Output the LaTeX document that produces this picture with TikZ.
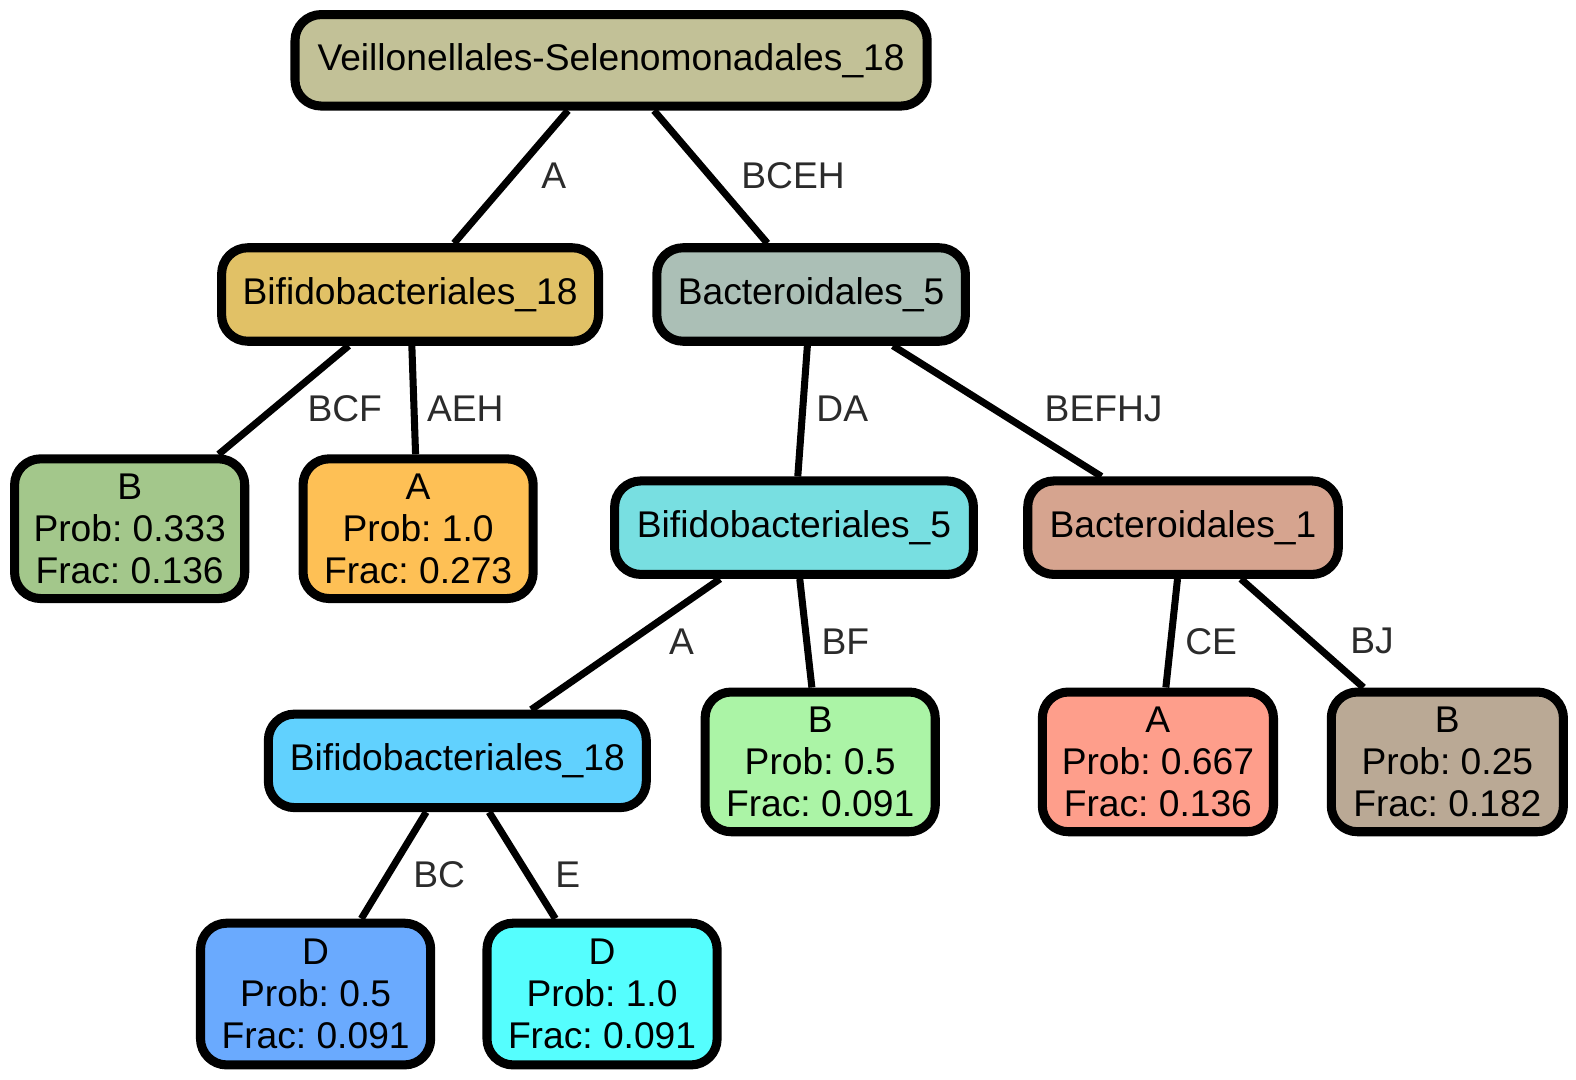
\documentclass[tikz,border=0pt]{standalone}
\usepackage{fontspec}
\setmainfont{Liberation Sans}
\frenchspacing
\definecolor{cRoot}{RGB}{194,193,151}
\definecolor{cBifA}{RGB}{225,193,102}
\definecolor{cBacA}{RGB}{171,191,182}
\definecolor{cLeafB}{RGB}{163,199,139}
\definecolor{cLeafA}{RGB}{254,192,85}
\definecolor{cBifB}{RGB}{120,223,225}
\definecolor{cBacB}{RGB}{214,164,143}
\definecolor{cBifC}{RGB}{97,209,254}
\definecolor{cLeafBF}{RGB}{171,244,166}
\definecolor{cLeafCE}{RGB}{254,158,139}
\definecolor{cLeafBJ}{RGB}{186,169,149}
\definecolor{cD1}{RGB}{106,170,254}
\definecolor{cD2}{RGB}{85,254,254}
\definecolor{cLab}{RGB}{43,43,43}
\tikzset{
  box/.style={draw=black, line width=9pt, rounded corners=26pt, inner sep=0pt,
    align=center, font=\fontsize{37}{41.5}\selectfont},
  inner/.style={box, minimum height=93pt},
  leaf/.style={box, minimum width=229pt, minimum height=139pt},
  conn/.style={line width=7pt, draw=black},
  elab/.style={text=cLab, font=\fontsize{37}{41.5}\selectfont, inner sep=0pt}
}
\begin{document}
\begin{tikzpicture}[x=1pt, y=-1pt]
\useasboundingbox (0,0) rectangle (1568,1074);
% nodes
\node[box, fill=cRoot, minimum width=629pt, minimum height=91pt] (root) at (608,60) {Veillonellales-Selenomonadales\_18};
\node[inner, fill=cBifA, minimum width=375pt] (bif18a) at (408,293) {Bifidobacteriales\_18};
\node[inner, fill=cBacA, minimum width=307pt] (bac5) at (807,293) {Bacteroidales\_5};
\node[leaf, fill=cLeafB] (leafB1) at (129,526) {B\\Prob: 0.333\\Frac: 0.136};
\node[leaf, fill=cLeafA] (leafA1) at (416,526) {A\\Prob: 1.0\\Frac: 0.273};
\node[inner, fill=cBifB, minimum width=357pt] (bif5) at (790,525) {Bifidobacteriales\_5};
\node[inner, fill=cBacB, minimum width=309pt] (bac1) at (1177,525) {Bacteroidales\_1};
\node[inner, fill=cBifC, minimum width=376pt] (bif18b) at (455,757) {Bifidobacteriales\_18};
\node[leaf, fill=cLeafBF] (leafBF) at (816,758) {B\\Prob: 0.5\\Frac: 0.091};
\node[leaf, fill=cLeafCE, minimum width=230pt] (leafCE) at (1152,758) {A\\Prob: 0.667\\Frac: 0.136};
\node[leaf, fill=cLeafBJ, minimum width=231pt] (leafBJ) at (1440,758) {B\\Prob: 0.25\\Frac: 0.182};
\node[leaf, fill=cD1, minimum height=141pt] (leafD1) at (314,989) {D\\Prob: 0.5\\Frac: 0.091};
\node[leaf, fill=cD2, minimum height=141pt] (leafD2) at (599,989) {D\\Prob: 1.0\\Frac: 0.091};
% connectors
\draw[conn] (root) -- (bif18a);
\draw[conn] (root) -- (bac5);
\draw[conn] (bif18a) -- (leafB1);
\draw[conn] (bif18a) -- (leafA1);
\draw[conn] (bac5) -- (bif5);
\draw[conn] (bac5) -- (bac1);
\draw[conn] (bif5) -- (bif18b);
\draw[conn] (bif5) -- (leafBF);
\draw[conn] (bac1) -- (leafCE);
\draw[conn] (bac1) -- (leafBJ);
\draw[conn] (bif18b) -- (leafD1);
\draw[conn] (bif18b) -- (leafD2);
% edge labels
\node[elab] (l1) at (551,175) {A};
\node[elab] (l2) at (789,175) {BCEH};
\node[elab] (l3) at (343,407) {BCF};
\node[elab] (l4) at (463,407) {AEH};
\node[elab] (l5) at (838,407) {DA};
\node[elab] (l6) at (1098,407) {BEFHJ};
\node[elab] (l7) at (678,638) {A};
\node[elab] (l8) at (841,638) {BF};
\node[elab] (l9) at (1205,638) {CE};
\node[elab] (l10) at (1365,638) {BJ};
\node[elab] (l11) at (437,870) {BC};
\node[elab] (l12) at (565,870) {E};
\end{tikzpicture}
\end{document}
